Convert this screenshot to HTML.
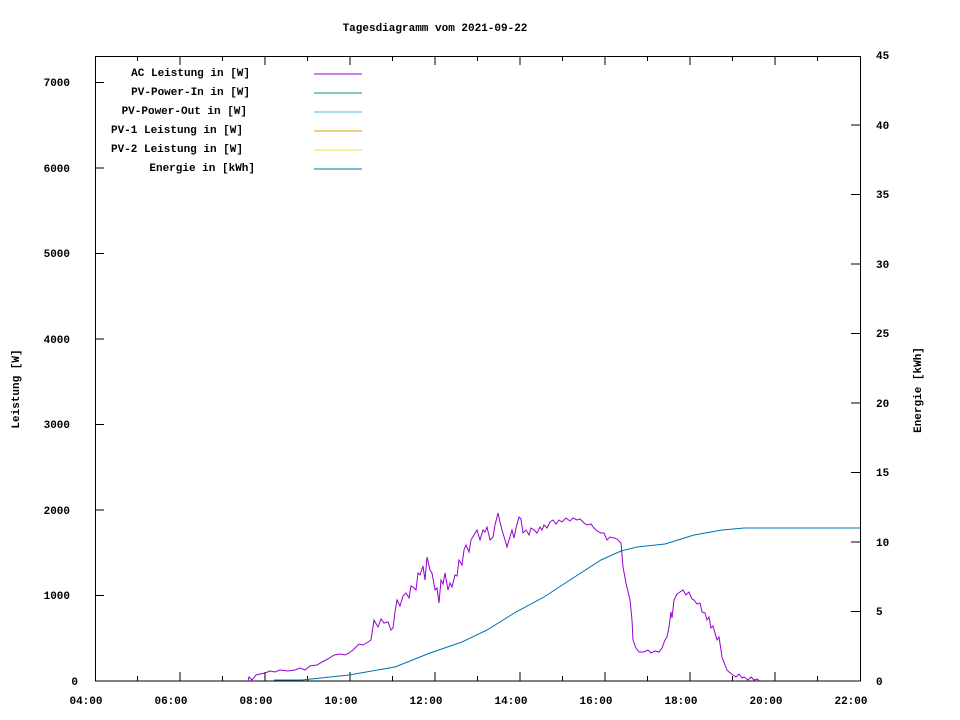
<!DOCTYPE html>
<html><head><meta charset="utf-8"><style>
body{margin:0;background:#fff}
svg{display:block}
text{font-family:"Liberation Mono","DejaVu Sans Mono",monospace;font-size:11px;font-weight:bold;fill:#000}
</style></head><body>
<svg width="960" height="720" viewBox="0 0 960 720">
<rect x="95.5" y="56.5" width="765" height="624.5" fill="none" stroke="#000" stroke-width="1"/>
<text x="435" y="31" text-anchor="middle">Tagesdiagramm vom 2021-09-22</text>
<g stroke="#000" stroke-width="1">
<line x1="95" y1="681" x2="104" y2="681"/><line x1="95" y1="595.5" x2="104" y2="595.5"/><line x1="95" y1="510" x2="104" y2="510"/><line x1="95" y1="424.5" x2="104" y2="424.5"/><line x1="95" y1="339" x2="104" y2="339"/><line x1="95" y1="253.5" x2="104" y2="253.5"/><line x1="95" y1="168" x2="104" y2="168"/><line x1="95" y1="82.5" x2="104" y2="82.5"/>
<line x1="851" y1="611.5" x2="860" y2="611.5"/><line x1="851" y1="542" x2="860" y2="542"/><line x1="851" y1="472.5" x2="860" y2="472.5"/><line x1="851" y1="403" x2="860" y2="403"/><line x1="851" y1="333.5" x2="860" y2="333.5"/><line x1="851" y1="264" x2="860" y2="264"/><line x1="851" y1="194.5" x2="860" y2="194.5"/><line x1="851" y1="125" x2="860" y2="125"/>
<line x1="137.5" y1="681" x2="137.5" y2="676"/><line x1="180" y1="681" x2="180" y2="672"/><line x1="222.5" y1="681" x2="222.5" y2="676"/><line x1="265" y1="681" x2="265" y2="672"/><line x1="307.5" y1="681" x2="307.5" y2="676"/><line x1="350" y1="681" x2="350" y2="672"/><line x1="392.5" y1="681" x2="392.5" y2="676"/><line x1="435" y1="681" x2="435" y2="672"/><line x1="477.5" y1="681" x2="477.5" y2="676"/><line x1="520" y1="681" x2="520" y2="672"/><line x1="562.5" y1="681" x2="562.5" y2="676"/><line x1="605" y1="681" x2="605" y2="672"/><line x1="647.5" y1="681" x2="647.5" y2="676"/><line x1="690" y1="681" x2="690" y2="672"/><line x1="732.5" y1="681" x2="732.5" y2="676"/><line x1="775" y1="681" x2="775" y2="672"/><line x1="817.5" y1="681" x2="817.5" y2="676"/>
<line x1="137.5" y1="56" x2="137.5" y2="61"/><line x1="180" y1="56" x2="180" y2="65"/><line x1="222.5" y1="56" x2="222.5" y2="61"/><line x1="265" y1="56" x2="265" y2="65"/><line x1="307.5" y1="56" x2="307.5" y2="61"/><line x1="350" y1="56" x2="350" y2="65"/><line x1="392.5" y1="56" x2="392.5" y2="61"/><line x1="435" y1="56" x2="435" y2="65"/><line x1="477.5" y1="56" x2="477.5" y2="61"/><line x1="520" y1="56" x2="520" y2="65"/><line x1="562.5" y1="56" x2="562.5" y2="61"/><line x1="605" y1="56" x2="605" y2="65"/><line x1="647.5" y1="56" x2="647.5" y2="61"/><line x1="690" y1="56" x2="690" y2="65"/><line x1="732.5" y1="56" x2="732.5" y2="61"/><line x1="775" y1="56" x2="775" y2="65"/><line x1="817.5" y1="56" x2="817.5" y2="61"/>
</g>
<g text-anchor="end">
<text x="78" y="685">0</text><text x="70" y="599">1000</text><text x="70" y="514">2000</text><text x="70" y="428">3000</text><text x="70" y="343">4000</text><text x="70" y="257">5000</text><text x="70" y="172">6000</text><text x="70" y="86">7000</text>
</g>
<g text-anchor="start">
<text x="876" y="685">0</text><text x="876" y="615">5</text><text x="876" y="546">10</text><text x="876" y="476">15</text><text x="876" y="407">20</text><text x="876" y="337">25</text><text x="876" y="268">30</text><text x="876" y="198">35</text><text x="876" y="129">40</text><text x="876" y="59">45</text>
</g>
<g text-anchor="middle">
<text x="86" y="704">04:00</text><text x="171" y="704">06:00</text><text x="256" y="704">08:00</text><text x="341" y="704">10:00</text><text x="426" y="704">12:00</text><text x="511" y="704">14:00</text><text x="596" y="704">16:00</text><text x="681" y="704">18:00</text><text x="766" y="704">20:00</text><text x="851" y="704">22:00</text>
</g>
<text transform="translate(19,389) rotate(-90)" text-anchor="middle">Leistung [W]</text>
<text transform="translate(921,390) rotate(-90)" text-anchor="middle">Energie [kWh]</text>
<g text-anchor="end">
<text x="250" y="76">AC Leistung in [W]</text>
<text x="250" y="95">PV-Power-In in [W]</text>
<text x="247" y="114">PV-Power-Out in [W]</text>
<text x="243" y="133">PV-1 Leistung in [W]</text>
<text x="243" y="152">PV-2 Leistung in [W]</text>
<text x="255" y="171">Energie in [kWh]</text>
</g>
<line x1="314" y1="74" x2="362" y2="74" stroke="#9400d3"/>
<line x1="314" y1="93" x2="362" y2="93" stroke="#009e73"/>
<line x1="314" y1="112" x2="362" y2="112" stroke="#56b4e9"/>
<line x1="314" y1="131" x2="362" y2="131" stroke="#e69f00"/>
<line x1="314" y1="150" x2="362" y2="150" stroke="#f0e442"/>
<line x1="314" y1="169" x2="362" y2="169" stroke="#0072b2"/>
<polyline fill="none" stroke="#0072b2" stroke-width="1" points="274,680 302,680 349,675 395,667 430,653 462,642 487,630 516,612 544,597 573,578 601,560 621,551 637,547 665,544 694,535 722,530 744,528 860,528"/>
<polyline fill="none" stroke="#9400d3" stroke-width="1" points="248,681 249,677 252,680 256,675 260,674 265,673 270,671 275,672 280,670 288,671 295,670 300,668 305,670 310,666 317,665 322,662 328,659 334,655 340,654 345,655 349,653 353,650 359,644 363,645 368,642 371,640 374,620 378,627 381,619 384,623 388,622 391,630 393,628 395,612 397,600 400,606 403,596 406,593 409,598 411,586 413,587 416,590 418,573 420,575 423,566 425,580 427,557 430,570 432,573 435,590 437,588 439,603 441,580 443,584 445,573 448,590 450,583 452,587 455,575 457,576 459,560 462,565 464,550 466,545 469,552 471,540 474,535 477,530 480,540 483,530 485,532 487,527 490,540 493,537 495,525 498,513 500,522 502,530 505,540 507,547 509,540 512,530 514,538 516,528 519,517 521,519 523,533 526,530 529,535 531,528 534,530 537,533 540,527 542,530 544,525 547,528 550,522 553,520 556,524 559,520 562,522 566,518 570,521 573,518 577,520 580,519 584,523 587,525 591,524 594,528 597,531 601,533 604,533 607,540 610,537 614,538 617,539 621,543 623,567 626,583 630,600 632,620 633,640 636,648 639,652 644,652 648,650 651,653 655,651 659,652 662,648 665,640 667,637 669,627 671,612 672,618 674,600 677,594 680,592 683,590 686,595 689,592 692,599 694,600 697,604 700,603 702,612 705,613 707,620 709,617 711,628 713,626 715,633 717,640 719,637 721,650 722,657 725,665 727,670 729,672 733,675 736,677 739,674 742,678 744,677 748,680 751,677 754,680 757,679 760,681"/>
</svg>
</body></html>
